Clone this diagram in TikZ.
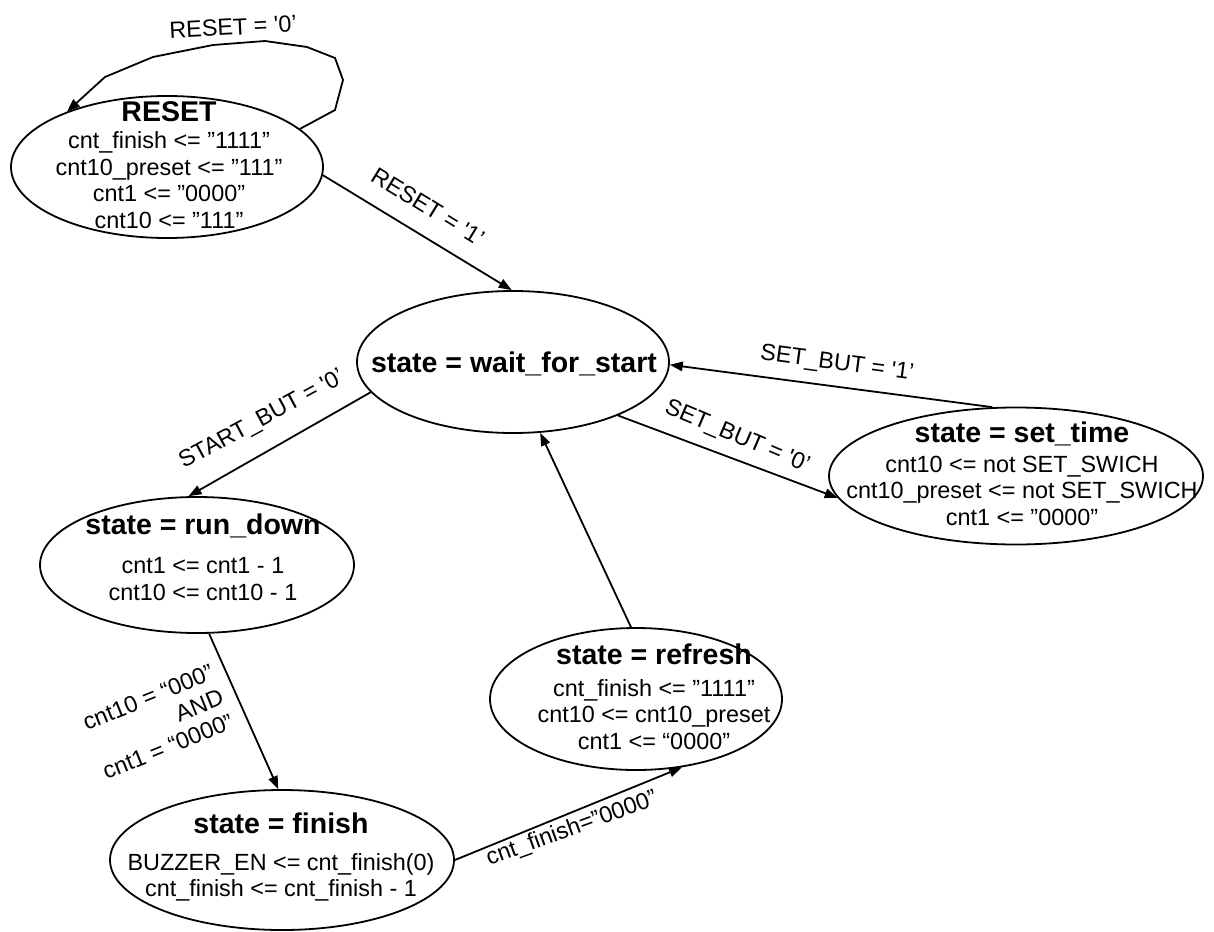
\documentclass[tikz,border=0pt]{standalone}
\usepackage{fontspec}
\setmainfont{Liberation Sans}[Ligatures=TeXOff]
\usetikzlibrary{shapes.geometric,arrows.meta}
\newcommand\sttitle{\fontsize{28.5}{31}\selectfont\bfseries}
\begin{document}
\begin{tikzpicture}[x=1pt,y=-1pt,
  stateshape/.style={draw, ellipse, line width=1.8pt, inner sep=0pt},
  txt/.style={align=center, font=\fontsize{23.4}{26.5}\selectfont, inner sep=0pt},
  lbl/.style={font=\fontsize{23.4}{26.5}\selectfont, inner sep=0pt},
  conn/.style={line width=1.8pt, -{Triangle[length=13pt,width=9.5pt]}},
]
\useasboundingbox[fill=white] (0,0) rectangle (1214,931);

% states
\node[stateshape, minimum width=312pt, minimum height=142pt] (reset) at (167,167) {};
\node[txt] (resetT) at (169,165) {{\sttitle RESET}\\[1pt]cnt\_finish <= ”1111”\\cnt10\_preset <= ”111”\\cnt1 <= ”0000”\\cnt10 <= ”111”};

\node[stateshape, minimum width=312pt, minimum height=142pt] (wait) at (513,362) {};
\node[txt, font=\sttitle] (waitT) at (514,364) {state = wait\_for\_start};

\node[stateshape, minimum width=374pt, minimum height=137pt] (settime) at (1016,476) {};
\node[txt] (settimeT) at (1022,474) {{\sttitle state = set\_time}\\[3pt]cnt10 <= not SET\_SWICH\\cnt10\_preset <= not SET\_SWICH\\cnt1 <= ”0000”};

\node[stateshape, minimum width=314pt, minimum height=136pt] (rundown) at (197,565) {};
\node[txt] (rundownT) at (203,557) {{\sttitle state = run\_down}\\[13pt]cnt1 <= cnt1 - 1\\cnt10 <= cnt10 - 1};

\node[stateshape, minimum width=344pt, minimum height=140pt] (finish) at (282,860) {};
\node[txt] (finishT) at (281,857) {{\sttitle state = finish}\\[10pt]BUZZER\_EN <= cnt\_finish(0)\\cnt\_finish <= cnt\_finish - 1};

\node[stateshape, minimum width=292pt, minimum height=142pt] (refresh) at (636,699) {};
\node[txt] (refreshT) at (654,697) {{\sttitle state = refresh}\\[5pt]cnt\_finish <= ”1111”\\cnt10 <= cnt10\_preset\\cnt1 <= “0000”};

% connectors
\draw[conn] (reset.16) -- (335,110) -- (343,80) -- (335,58) -- (307,47) -- (265,41)
  -- (213,45) -- (153,57) -- (105,77) -- (reset.151);
\node[lbl, rotate=3] (l0) at (233,27) {RESET = '0’};

\draw[conn] (reset.-3.4) -- (wait.91);
\node[lbl, rotate=-31.4] (l1) at (428,207) {RESET = '1’};

\draw[conn] (wait.192) -- (rundown.97);
\node[lbl, rotate=28.4] (l2) at (262,420) {START\_BUT = '0’};

\draw[conn] (settime.109) -- (wait.-1);
\node[lbl, rotate=-7.6] (l3) at (837,364) {SET\_BUT = '1’};

\draw[conn] (wait.-27) -- (settime.187);
\node[lbl, rotate=-23] (l4) at (737,437) {SET\_BUT = '0’};

\draw[conn] (refresh.94) -- (wait.-69.7);

\draw[conn] (rundown.-80) -- (finish.93);
\node[lbl, align=right, rotate=22] (l5) at (158,722) {cnt10 = “000”\\AND\\cnt1 = “0000”};

\draw[conn] (finish.0) -- (refresh.-56);
\node[lbl, rotate=20] (l6) at (572,829) {cnt\_finish=”0000”};
\end{tikzpicture}
\end{document}
